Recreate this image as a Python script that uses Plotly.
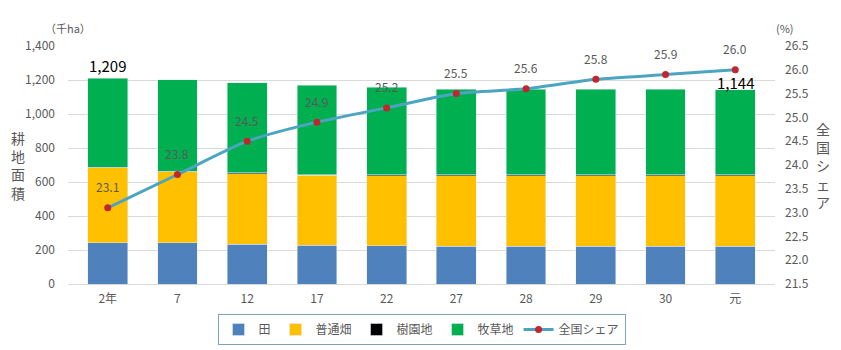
import plotly.graph_objects as go

years = ["2年", "7", "12", "17", "22", "27", "28", "29", "30", "元"]
rice = [244, 243, 235, 229, 226, 223, 222, 222, 222, 222]
upland = [440, 417, 414, 410, 411, 414, 415, 415, 415, 415]
orchard = [2, 2, 5, 5, 5, 5, 5, 5, 5, 5]
pasture = [523, 539, 531, 525, 514, 505, 504, 503, 503, 502]
share = [23.1, 23.8, 24.5, 24.9, 25.2, 25.5, 25.6, 25.8, 25.9, 26.0]
totals = [r + u + o + p for r, u, o, p in zip(rice, upland, orchard, pasture)]

FONT = "Noto Sans CJK JP"
GRAY = "#595959"

fig = go.Figure()
fig.add_bar(x=years, y=rice, name="田", marker_color="#4F81BD", hoverinfo="skip")
fig.add_bar(x=years, y=upland, name="普通畑", marker_color="#FFC000", hoverinfo="skip")
fig.add_bar(x=years, y=orchard, name="樹園地", marker_color="#000000", hoverinfo="skip")
fig.add_bar(x=years, y=pasture, name="牧草地", marker_color="#00B050", hoverinfo="skip")
fig.add_scatter(x=years, y=share, name="全国シェア", yaxis="y2", mode="lines+markers",
                line=dict(color="#4BA5C0", width=3, shape="spline", smoothing=0.6),
                marker=dict(color="#C0272D", size=7), hoverinfo="skip")

# category axis: annotations positioned by category index
for i, v in enumerate(share):
    fig.add_annotation(x=i, y=v, xref="x", yref="y2", text=f"{v:.1f}", showarrow=False, yshift=21,
                       font=dict(size=12, color=GRAY, family=FONT))

# total labels for first and last bars
fig.add_annotation(x=0, y=totals[0], text=f"{totals[0]:,}", showarrow=False,
                   yshift=13, font=dict(size=15, color="#000", family=FONT))
fig.add_annotation(x=len(years) - 1, y=totals[-1], text=f"{totals[-1]:,}", showarrow=False,
                   yshift=7, font=dict(size=15, color="#000", family=FONT))

fig.add_annotation(xref="paper", yref="paper", x=-0.083, y=0.5, text="耕<br>地<br>面<br>積",
                   showarrow=False, font=dict(size=14, color=GRAY, family=FONT))
fig.add_annotation(xref="paper", yref="paper", x=1.08, y=0.5, text="全<br>国<br>シ<br>ェ<br>ア",
                   showarrow=False, font=dict(size=14, color=GRAY, family=FONT))
fig.add_annotation(xref="paper", yref="paper", x=-0.036, y=1.075, text="（千ha）",
                   yanchor="middle", showarrow=False, font=dict(size=11, color=GRAY, family=FONT))
fig.add_annotation(xref="paper", yref="paper", x=0.998, y=1.075, text="(%)", xanchor="left",
                   yanchor="middle", showarrow=False, font=dict(size=11, color=GRAY, family=FONT))

fig.update_layout(
    width=841, height=350,
    margin=dict(l=68, r=66, t=46, b=66, autoexpand=False),
    barmode="stack", bargap=0.43,
    paper_bgcolor="white", plot_bgcolor="white",
    font=dict(family=FONT, color=GRAY, size=12),
    showlegend=True,
    legend=dict(orientation="h", x=0.5, xanchor="center", y=-0.126, yanchor="top",
                bordercolor="#7FA6AD", borderwidth=1, font=dict(size=12, color=GRAY),
                itemwidth=30, traceorder="normal", tracegroupgap=0),
    xaxis=dict(type="category", showgrid=False, showline=True, linecolor="#D9D9D9", ticks="",
               ticklabelstandoff=4, tickfont=dict(size=12, color=GRAY)),
    yaxis=dict(range=[0, 1400], dtick=200, tickformat=",", showgrid=True, gridcolor="#D9D9D9",
               zeroline=False, ticks="", ticklabelstandoff=12, tickfont=dict(size=12, color=GRAY)),
    yaxis2=dict(range=[21.5, 26.5], dtick=0.5, tickformat=".1f", overlaying="y", side="right",
                showgrid=False, zeroline=False, ticks="", ticklabelstandoff=9,
                tickfont=dict(size=12, color=GRAY)),
)

fig.write_html("out.html")
